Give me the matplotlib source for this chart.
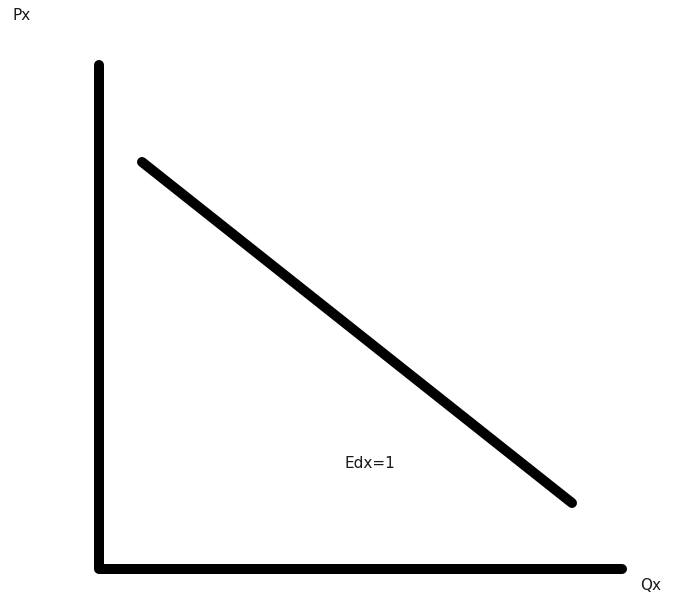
import matplotlib.pyplot as plt

# demand curve endpoints (Qx, Px)
q_demand = [0.86, 9.46]
p_demand = [8.14, 1.32]

# axis lengths
q_max = 10.46
p_max = 10.08

fig = plt.figure(figsize=(6.77, 6.01), dpi=100)
ax = fig.add_axes([0, 0, 1, 1])
ax.set_xlim(-1.98, 11.56)
ax.set_ylim(-0.64, 11.38)
ax.axis('off')

# axes drawn as thick strokes
ax.plot([0, 0, q_max], [p_max, 0, 0], color='black', lw=7.2,
        solid_capstyle='round', solid_joinstyle='round')
ax.plot(q_demand, p_demand, color='black', lw=7.2, solid_capstyle='round')

ax.text(-1.72, 11.06, 'Px', fontsize=11, va='center', ha='left', color='#1a1a1a')
ax.text(10.82, -0.32, 'Qx', fontsize=11, va='center', ha='left', color='#1a1a1a')
ax.text(4.92, 2.12, 'Edx=1', fontsize=11, va='center', ha='left', color='#1a1a1a')

fig.savefig('out.png', dpi=100)
